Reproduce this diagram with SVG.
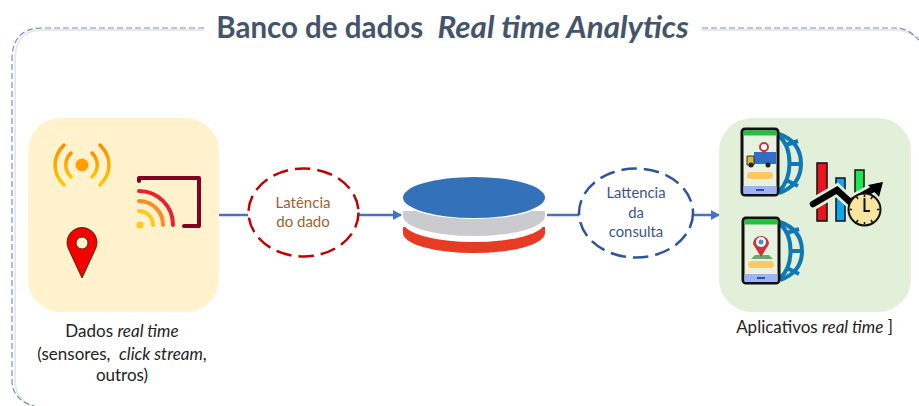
<svg xmlns="http://www.w3.org/2000/svg" width="919" height="406" viewBox="0 0 919 406">
<defs>
<style>
.t{font-family:"Lato","Open Sans","Liberation Sans",sans-serif;text-anchor:middle}
.lbl{font-size:17px;fill:#222}
.i{font-style:italic}
.conn{stroke:#4472c4;stroke-width:2.5;fill:none}
.frame{fill:none;stroke:#6f8fc4;stroke-width:1.2;stroke-dasharray:6 3}
.frameS{fill:none;stroke:#dedede;stroke-width:2;opacity:.7}
.ph{fill:#e8f2e0;stroke:#111;stroke-width:3}
.gl{fill:none;stroke:#0f79b5;stroke-width:4}
</style>
<marker id="arr" markerUnits="userSpaceOnUse" markerWidth="9" markerHeight="10" refX="8" refY="5" orient="auto"><path d="M0 0L9 5L0 10Z" fill="#4472c4"/></marker>
<linearGradient id="wg" x1="0" y1="0" x2="0" y2="1"><stop offset="0" stop-color="#ff8c00"/><stop offset="1" stop-color="#ffc800"/></linearGradient>
</defs>
<rect width="919" height="406" fill="#fff"/>
<g id="frame">
<path class="frameS" d="M204 30H42Q15 30 15 60V380Q15 402 38 408M702 30H896Q910 30 921 42"/>
<path class="frame" d="M204 28H42Q12 28 12 60V380Q12 400 34 406M702 28H896Q908 28 919 40"/>
</g>
<g id="title"><text class="t" x="452.500" y="38" font-size="29.500" font-weight="700" fill="#44546a" xml:space="preserve">Banco de dados  <tspan class="i" font-size="31.400">Real time Analytics</tspan></text></g>
<g id="connectors">
<path class="conn" d="M219 215H248"/>
<path class="conn" d="M359 215H401" marker-end="url(#arr)"/>
<path class="conn" d="M547 215H579"/>
<path class="conn" d="M693 215H719" marker-end="url(#arr)"/>
</g>
<g id="sources">
<rect x="28" y="118" width="191" height="194" rx="33" fill="#fff2cc"/>
<g fill="none" stroke="url(#wg)" stroke-width="3.500" stroke-linecap="round">
<path d="M64 145C52 157 52 173 64 185"/>
<path d="M71 153C64 160 64 170 71 177"/>
<path d="M92 153C99 160 99 170 92 177"/>
<path d="M100 145C112 157 112 173 100 185"/>
</g>
<circle cx="82" cy="165" r="6.500" fill="#ffa000"/>
<path d="M139 181V178H199V226H184" fill="none" stroke="#7f0020" stroke-width="4" stroke-linecap="round" stroke-linejoin="round"/>
<g fill="none" stroke-width="4" stroke-linecap="round">
<path d="M139 191A34 34 0 0 1 173 225" stroke="#e8222e"/>
<path d="M139 201A24 24 0 0 1 163 225" stroke="#ff8a2a"/>
<path d="M139 211A14 14 0 0 1 153 225" stroke="#ffc81e"/>
</g>
<circle cx="140" cy="225" r="3.500" fill="#ffc81e"/>
<path d="M82 278L69 250A15 15 0 1 1 95 250Z" fill="#f50000" stroke="#4a2a10" stroke-width="1"/>
<circle cx="82" cy="243" r="6" fill="#fff2cc" stroke="#4a2a10" stroke-width="1"/>
<text class="t lbl" xml:space="preserve"><tspan x="122" y="337">Dados <tspan class="i">real time</tspan></tspan><tspan x="122" y="360">(sensores,  <tspan class="i">click stream</tspan>,</tspan><tspan x="122" y="381">outros)</tspan></text>
</g>
<g id="latencia-dado">
<ellipse cx="303.500" cy="212.500" rx="55" ry="44" fill="#fff" stroke="#c00000" stroke-width="2.500" stroke-dasharray="15.500 7"/>
<text class="t" font-size="15" fill="#a0622f"><tspan x="303" y="208">Latência</tspan><tspan x="303" y="227">do dado</tspan></text>
</g>
<g id="database">
<path d="M403 227V233A71 20 0 0 0 545 233V227Z" fill="#e63c25"/>
<ellipse cx="474" cy="222" rx="71" ry="20" fill="#fff"/>
<path d="M403 211V216A71 20 0 0 0 545 216V211Z" fill="#cbcbcf"/>
<ellipse cx="474" cy="200" rx="71" ry="19" fill="#fff"/>
<ellipse cx="474" cy="197.500" rx="71" ry="20.500" fill="#3372b8"/>
</g>
<g id="latencia-consulta">
<ellipse cx="636" cy="213" rx="57" ry="44.500" fill="#fff" stroke="#2f5597" stroke-width="2.500" stroke-dasharray="15.500 7"/>
<text class="t" font-size="14.800" fill="#3b5588"><tspan x="636" y="198">Lattencia</tspan><tspan x="636" y="218">da</tspan><tspan x="636" y="237">consulta</tspan></text>
</g>
<g id="apps">
<rect x="719" y="118" width="192" height="194" rx="33" fill="#e2efd9"/>
<!-- globe 1 -->
<path class="gl" d="M779 134C796 140 801 152 801 164C801 176 796 187 779 193"/>
<path class="gl" d="M779 136C793 148 793 178 779 191M786 145L798 141M790 164H800M786 180L798 186" stroke-width="3.500"/>
<!-- phone 1 -->
<rect class="ph" x="742" y="129" width="36" height="66" rx="3"/>
<rect x="743.500" y="130.500" width="33" height="5" fill="#22c33c"/>
<rect x="743.500" y="186" width="33" height="8" fill="#a0b4f5"/><rect x="756" y="189" width="8" height="2" fill="#2050c0"/>
<rect x="747" y="172" width="26" height="7" rx="3.500" fill="#ffc861"/>
<rect x="754" y="152" width="22" height="12" fill="#2f6fc4"/><path d="M747 156H754V165H747Z" fill="#d8b93a" stroke="#333"/>
<circle cx="751" cy="165" r="2.500" fill="#222"/><circle cx="768" cy="165" r="2.500" fill="#222"/>
<circle cx="764" cy="147" r="4" fill="#fff" stroke="#c8363c" stroke-width="2"/><path d="M761 150L764 154L767 150Z" fill="#c8363c"/>
<!-- globe 2 -->
<path class="gl" d="M780 222C797 228 802 240 802 251C802 263 797 274 780 280"/>
<path class="gl" stroke-width="3.500" d="M780 224C794 236 794 266 780 278M787 233L799 229M791 251H801M787 268L799 274"/>
<!-- phone 2 -->
<rect class="ph" x="743" y="218" width="36" height="65" rx="3"/>
<rect x="744.500" y="219.500" width="33" height="5" fill="#22c33c"/>
<rect x="744.500" y="274" width="33" height="8" fill="#a0b4f5"/><rect x="757" y="277" width="8" height="2" fill="#2050c0"/>
<path d="M751 259L755 255H769L773 259Z" fill="#6aa86a"/>
<rect x="748" y="261" width="26" height="7" rx="3.500" fill="#ffc861"/>
<path d="M761 257L753 244A8 8 0 1 1 769 244Z" fill="#c8363c"/><circle cx="761" cy="242" r="5" fill="#fff"/><circle cx="761" cy="242" r="2.500" fill="#4a90b8"/>
<!-- chart -->
<g stroke="#111" stroke-width="1.500">
<rect x="817" y="163" width="10" height="58" fill="#e8141e"/>
<rect x="836" y="178" width="9" height="43" fill="#12a5ef"/>
<rect x="855" y="170" width="9" height="32" fill="#1ee650"/>
</g>
<path d="M813 204L837 190L850 202L877 187" fill="none" stroke="#e2efd9" stroke-width="12"/>
<path d="M813 204L837 190L850 202L877 187" fill="none" stroke="#000" stroke-width="6.500" stroke-linecap="round"/>
<path d="M868 185L883 182L879 197Z" fill="#000"/>
<circle cx="864.500" cy="209.500" r="16" fill="#f7e6a0" stroke="#111" stroke-width="2"/>
<path d="M864.500 198V211H870" fill="none" stroke="#111" stroke-width="2"/>
<path d="M864.500 194.500V197M864.500 222V224.500M849.500 209.500H852M877 209.500H879.500M856.500 196.500L858 199M871 220L872.500 222.500M856.500 222.500L858 220M871 199L872.500 196.500" stroke="#111" stroke-width="1.500"/>
<text class="t lbl" xml:space="preserve" x="814.500" y="333">Aplicativos <tspan class="i">real time</tspan> ]</text>
</g>
</svg>
